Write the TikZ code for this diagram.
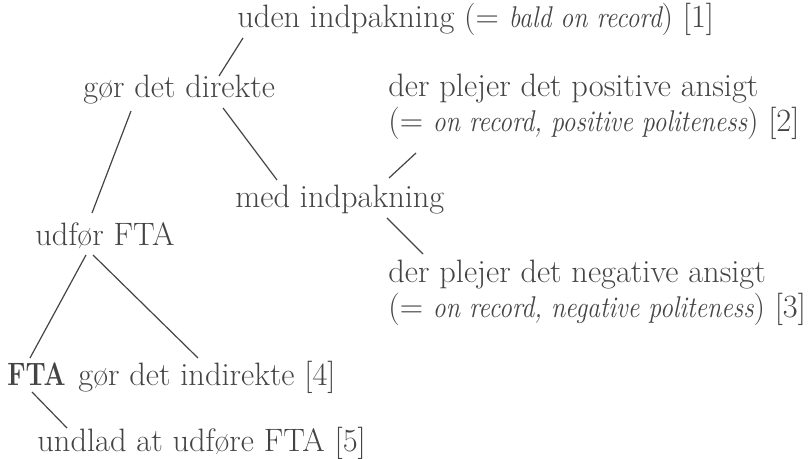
\documentclass[tikz,border=0pt]{standalone}
\usepackage{graphicx}
\usepackage{xcolor}
\definecolor{inkgray}{RGB}{68,68,68}
\newcommand{\engl}[1]{\scalebox{0.86}[1]{\fontsize{15}{17}\selectfont\itshape #1}}
\newcommand{\fta}{\scalebox{0.8}[1]{\fontsize{16.2}{18}\selectfont\bfseries FTA}}

\begin{document}
\begin{tikzpicture}[x=0.5pt, y=-0.5pt,
    every node/.style={inner sep=0pt, anchor=base west, text=inkgray, font=\fontsize{16.2}{18}\selectfont},
    branch/.style={draw=inkgray, line width=0.6pt}]
    \useasboundingbox (0,0) rectangle (809,459);
    % Nodes of the strategy tree
    \node (uden) at (237,28) {uden indpakning (= \engl{bald on record}) [1]};
    \node (dir)  at (83,98) {gør det direkte};
    \node (posa) at (388,97) {der plejer det positive ansigt};
    \node (posb) at (388,132) {(= \engl{on record, positive politeness}) [2]};
    \node (med)  at (235,208) {med indpakning};
    \node (udf)  at (35,246) {udfør FTA};
    \node (nega) at (388,283) {der plejer det negative ansigt};
    \node (negb) at (388,318) {(= \engl{on record, negative politeness}) [3]};
    \node (fta)  at (7,386) {\fta};
    \node (ind)  at (78,386) {gør det indirekte [4]};
    \node (und)  at (37,452) {undlad at udføre FTA [5]};
    % Branches
    \draw[branch] ([shift={(6,10)}]uden.base west) -- ([shift={(136,-22)}]dir.base west);
    \draw[branch] ([shift={(48,13)}]dir.base west) -- ([shift={(57,-33)}]udf.base west);
    \draw[branch] ([shift={(140,10)}]dir.base west) -- ([shift={(42,-28)}]med.base west);
    \draw[branch] ([shift={(154,-30)}]med.base west) -- ([shift={(28,21)}]posb.base west);
    \draw[branch] ([shift={(152,10)}]med.base west) -- ([shift={(35,-29)}]nega.base west);
    \draw[branch] ([shift={(51,9)}]udf.base west) -- ([shift={(23,-28)}]fta.base west);
    \draw[branch] ([shift={(58,9)}]udf.base west) -- ([shift={(120,-28)}]ind.base west);
    \draw[branch] ([shift={(25,6)}]fta.base west) -- ([shift={(30,-24)}]und.base west);
\end{tikzpicture}
\end{document}
